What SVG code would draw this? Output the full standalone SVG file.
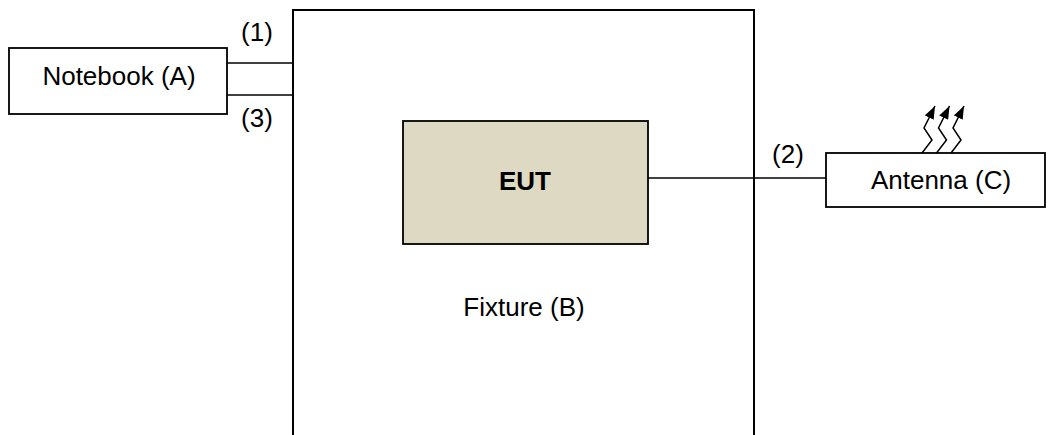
<svg xmlns="http://www.w3.org/2000/svg" width="1048" height="435" viewBox="0 0 1048 435">
  <style>
    text { font-family: "Liberation Sans", Arial, sans-serif; font-size: 26px; fill: #000; text-anchor: middle; }
    .box { fill: #fff; stroke: #000; stroke-width: 1.8; }
    .eut { fill: #DDD9C3; stroke: #000; stroke-width: 1.8; }
    .wire { stroke: #000; stroke-width: 1.5; fill: none; }
    .wave { stroke: #000; stroke-width: 1.5; fill: none; marker-end: url(#arr); }
  </style>
  <defs>
    <marker id="arr" markerUnits="userSpaceOnUse" markerWidth="13" markerHeight="10" refX="13" refY="5" orient="auto">
      <path d="M0,0 L13,5 L0,10 z" fill="#000"/>
    </marker>
    <path id="zz" d="M922,153 L932,140 L924,128 L935,106"/>
  </defs>

  <g id="fixture">
    <path d="M293,440 V10 H754 V440" fill="none" stroke="#000" stroke-width="2"/>
    <text x="524" y="316">Fixture (B)</text>
  </g>

  <g id="notebook">
    <rect class="box" x="9" y="48" width="218" height="66"/>
    <text x="119" y="85">Notebook (A)</text>
  </g>

  <g id="eut">
    <rect class="eut" x="403" y="121" width="245" height="123"/>
    <text x="525" y="190" font-weight="bold">EUT</text>
  </g>

  <g id="antenna">
    <rect class="box" x="826" y="153" width="219" height="54"/>
    <text x="941" y="189">Antenna (C)</text>
    <use href="#zz" class="wave"/>
    <use href="#zz" class="wave" transform="translate(14.5,0)"/>
    <use href="#zz" class="wave" transform="translate(29,0)"/>
  </g>

  <g id="connectors">
    <line class="wire" x1="227" y1="63" x2="293" y2="63"/>
    <line class="wire" x1="227" y1="95" x2="293" y2="95"/>
    <line class="wire" x1="648" y1="178" x2="826" y2="178"/>
    <text x="257" y="41">(1)</text>
    <text x="257" y="127">(3)</text>
    <text x="788" y="163">(2)</text>
  </g>
</svg>
